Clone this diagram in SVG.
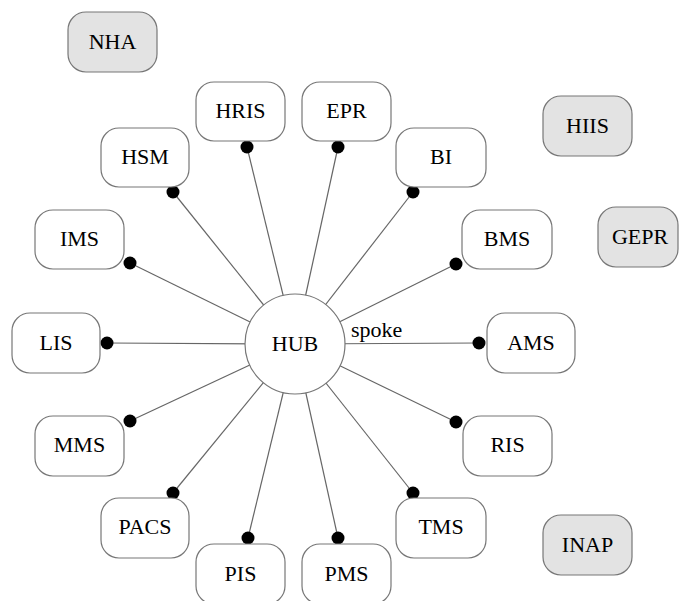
<svg xmlns="http://www.w3.org/2000/svg" width="679" height="601" viewBox="0 0 679 601">
<defs>
<style>
.n{fill:#fff;stroke:#777;stroke-width:1.2}
.g{fill:#e3e3e3;stroke:#777;stroke-width:1.2}
.e{stroke:#666;stroke-width:1.2;fill:none}
.d{fill:#000}
</style>
</defs>
<rect width="679" height="601" fill="#fff"/>
<g id="connectors">
<line class="e" x1="295" y1="344" x2="247" y2="147"/>
<line class="e" x1="295" y1="344" x2="338" y2="147"/>
<line class="e" x1="295" y1="344" x2="173" y2="192"/>
<line class="e" x1="295" y1="344" x2="413" y2="192"/>
<line class="e" x1="295" y1="344" x2="130" y2="263"/>
<line class="e" x1="295" y1="344" x2="107" y2="343"/>
<line class="e" x1="295" y1="344" x2="456" y2="264"/>
<line class="e" x1="295" y1="344" x2="479" y2="343"/>
<line class="e" x1="295" y1="344" x2="130" y2="421"/>
<line class="e" x1="295" y1="344" x2="173" y2="493"/>
<line class="e" x1="295" y1="344" x2="248" y2="538"/>
<line class="e" x1="295" y1="344" x2="338" y2="538"/>
<line class="e" x1="295" y1="344" x2="456" y2="422"/>
<line class="e" x1="295" y1="344" x2="413" y2="493"/>
<circle class="d" cx="247" cy="147" r="6.5"/>
<circle class="d" cx="338" cy="147" r="6.5"/>
<circle class="d" cx="173" cy="192" r="6.5"/>
<circle class="d" cx="413" cy="192" r="6.5"/>
<circle class="d" cx="130" cy="263" r="6.5"/>
<circle class="d" cx="107" cy="343" r="6.5"/>
<circle class="d" cx="456" cy="264" r="6.5"/>
<circle class="d" cx="479" cy="343" r="6.5"/>
<circle class="d" cx="130" cy="421" r="6.5"/>
<circle class="d" cx="173" cy="493" r="6.5"/>
<circle class="d" cx="248" cy="538" r="6.5"/>
<circle class="d" cx="338" cy="538" r="6.5"/>
<circle class="d" cx="456" cy="422" r="6.5"/>
<circle class="d" cx="413" cy="493" r="6.5"/>
<text x="351" y="337" font-family="Liberation Serif" font-size="22">spoke</text>
</g>
<g id="HUB"><circle class="n" cx="295" cy="344" r="50"/><text x="295" y="351" font-family="Liberation Serif" font-size="22" text-anchor="middle">HUB</text></g>
<g id="NHA"><rect class="g" x="68" y="12" width="89" height="60" rx="18"/><text x="112.5" y="49" font-family="Liberation Serif" font-size="22" text-anchor="middle">NHA</text></g>
<g id="HRIS"><rect class="n" x="196" y="82" width="89" height="59" rx="18"/><text x="240.5" y="118" font-family="Liberation Serif" font-size="22" text-anchor="middle">HRIS</text></g>
<g id="EPR"><rect class="n" x="302" y="82" width="89" height="59" rx="18"/><text x="346.5" y="118" font-family="Liberation Serif" font-size="22" text-anchor="middle">EPR</text></g>
<g id="HSM"><rect class="n" x="101" y="128" width="88" height="59" rx="18"/><text x="145" y="164" font-family="Liberation Serif" font-size="22" text-anchor="middle">HSM</text></g>
<g id="BI"><rect class="n" x="396" y="128" width="90" height="59" rx="18"/><text x="441" y="164" font-family="Liberation Serif" font-size="22" text-anchor="middle">BI</text></g>
<g id="HIIS"><rect class="g" x="543" y="96" width="89" height="60" rx="18"/><text x="587.5" y="133" font-family="Liberation Serif" font-size="22" text-anchor="middle">HIIS</text></g>
<g id="IMS"><rect class="n" x="35" y="210" width="89" height="59" rx="18"/><text x="79.5" y="246" font-family="Liberation Serif" font-size="22" text-anchor="middle">IMS</text></g>
<g id="BMS"><rect class="n" x="462" y="210" width="90" height="59" rx="18"/><text x="507" y="246" font-family="Liberation Serif" font-size="22" text-anchor="middle">BMS</text></g>
<g id="GEPR"><rect class="g" x="598" y="207" width="80" height="60" rx="18"/><text x="640" y="244" font-family="Liberation Serif" font-size="22" text-anchor="middle">GEPR</text></g>
<g id="LIS"><rect class="n" x="12" y="313" width="88" height="60" rx="18"/><text x="56" y="350" font-family="Liberation Serif" font-size="22" text-anchor="middle">LIS</text></g>
<g id="AMS"><rect class="n" x="487" y="313" width="88" height="60" rx="18"/><text x="531" y="350" font-family="Liberation Serif" font-size="22" text-anchor="middle">AMS</text></g>
<g id="MMS"><rect class="n" x="35" y="416" width="89" height="60" rx="18"/><text x="79.5" y="452" font-family="Liberation Serif" font-size="22" text-anchor="middle">MMS</text></g>
<g id="RIS"><rect class="n" x="463" y="416" width="89" height="60" rx="18"/><text x="507.5" y="452" font-family="Liberation Serif" font-size="22" text-anchor="middle">RIS</text></g>
<g id="PACS"><rect class="n" x="101" y="498" width="88" height="60" rx="18"/><text x="145" y="534" font-family="Liberation Serif" font-size="22" text-anchor="middle">PACS</text></g>
<g id="TMS"><rect class="n" x="396" y="498" width="90" height="60" rx="18"/><text x="441" y="534" font-family="Liberation Serif" font-size="22" text-anchor="middle">TMS</text></g>
<g id="INAP"><rect class="g" x="543" y="515" width="89" height="60" rx="18"/><text x="587.5" y="552" font-family="Liberation Serif" font-size="22" text-anchor="middle">INAP</text></g>
<g id="PIS"><rect class="n" x="196" y="544" width="89" height="60" rx="18"/><text x="240.5" y="581" font-family="Liberation Serif" font-size="22" text-anchor="middle">PIS</text></g>
<g id="PMS"><rect class="n" x="302" y="544" width="89" height="60" rx="18"/><text x="346.5" y="581" font-family="Liberation Serif" font-size="22" text-anchor="middle">PMS</text></g>
</svg>
